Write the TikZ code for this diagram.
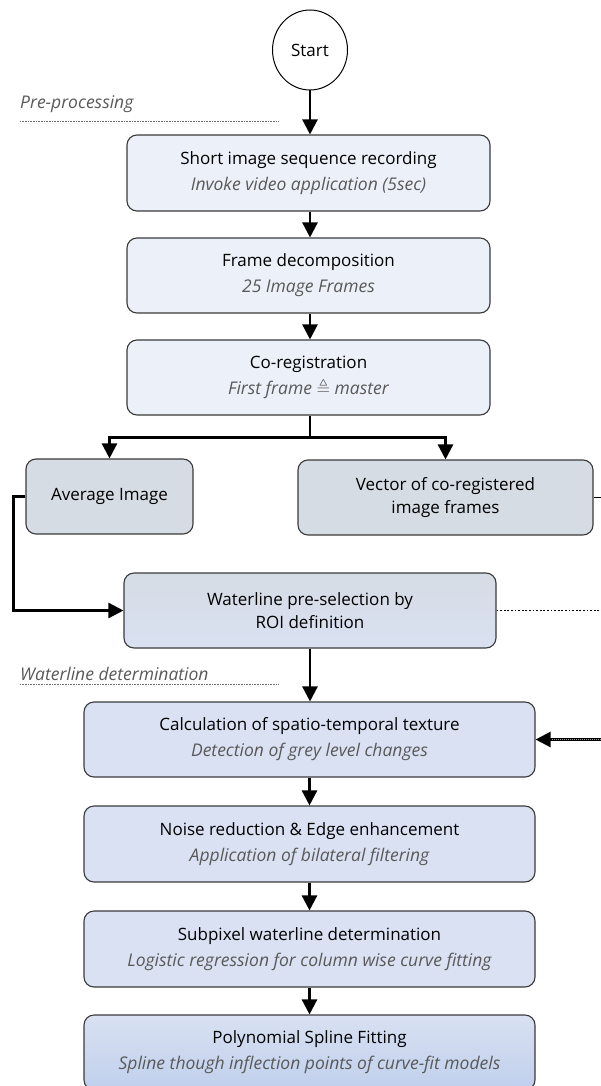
\documentclass[tikz,border=0pt]{standalone}
\usepackage{amssymb}
\usepackage{fontspec}
\setmainfont{Open Sans}
\usetikzlibrary{arrows.meta,shapes.geometric}
\definecolor{bdr}{HTML}{3A3A3A}
\definecolor{fillA}{HTML}{ECF0F9}
\definecolor{fillB}{HTML}{D6DCE4}
\definecolor{fillC}{HTML}{D9E1F2}
\definecolor{fillD}{HTML}{BFCFEC}
\definecolor{subc}{HTML}{595959}
\tikzset{
  box/.style={draw=bdr, line width=1.1pt, rounded corners=10pt, align=center,
    inner sep=0pt, font=\fontsize{17}{26}\selectfont},
  lightbox/.style={box, fill=fillA, minimum width=363pt, minimum height=76pt},
  greybox/.style={box, fill=fillB, minimum height=75pt, font=\fontsize{17}{23}\selectfont},
  bluebox/.style={box, fill=fillC, minimum width=451pt, minimum height=75pt},
  arr/.style={line width=2.4pt, -{Triangle[length=15pt,width=15pt]}},
  sublbl/.style={font=\fontsize{17.5}{18}\selectfont\itshape, text=subc, inner sep=0pt},
  secline/.style={line width=0.8pt, draw=black!55, dash pattern=on 0.8pt off 0.8pt},
}
\newcommand{\subt}[1]{{\fontsize{17.5}{26}\selectfont\itshape\color{subc}#1}}
\begin{document}
\begin{tikzpicture}[x=1pt,y=-1pt]
\useasboundingbox (0,0) rectangle (601,1086);
\clip (0,0) rectangle (601,1086);
% Start
\node[draw, ellipse, line width=1pt, minimum width=75pt, minimum height=80pt, inner sep=0pt,
      font=\fontsize{17}{18}\selectfont] (start) at (310,50) {Start};
% section labels
\node[sublbl, anchor=base west] (pre) at (20,109) {Pre-processing};
\coordinate (preA) at (20,121.5);
\coordinate (preB) at (278,121.5);
\draw[secline] (preA) -- (preB);
% pre-processing boxes
\node[lightbox] (b1) at (308.5,173) {Short image sequence recording\\\subt{Invoke video application (5sec)}};
\node[lightbox, minimum height=75pt] (b2) at (308.5,275.5) {Frame decomposition\\\subt{25 Image Frames}};
\node[lightbox, minimum height=75pt] (b3) at (308.5,377.5) {Co-registration\\\subt{First frame $\triangleq$ master}};
\node[greybox, minimum width=167pt] (avg) at (109.5,496.5) {Average Image};
\node[greybox, minimum width=295pt] (vec) at (445.5,497.5) {Vector of co-registered\\image frames};
\node[box, minimum width=372pt, minimum height=75pt, top color=fillB, bottom color=fillC,
      font=\fontsize{17}{23}\selectfont] (wl) at (310,610.5) {Waterline pre-selection by\\ROI definition};
% waterline determination
\node[sublbl, anchor=base west] (wdl) at (20,680) {Waterline determination};
\coordinate (wdA) at (20,684);
\coordinate (wdB) at (278,684);
\draw[secline] (wdA) -- (wdB);
\node[bluebox] (calc) at (309.5,739.5) {Calculation of spatio-temporal texture\\\subt{Detection of grey level changes}};
\node[bluebox, minimum height=76pt] (noise) at (309.5,844) {Noise reduction \& Edge enhancement\\\subt{Application of bilateral filtering}};
\node[bluebox, minimum height=76pt] (sub) at (309.5,949) {Subpixel waterline determination\\\subt{Logistic regression for column wise curve fitting}};
\node[box, minimum width=451pt, minimum height=75pt, top color=fillC, bottom color=fillD] (poly) at (309.5,1052.5) {Polynomial Spline Fitting\\\subt{Spline though inflection points of curve-fit models}};
% connectors
\draw[arr] (start.south) -- (start.south |- b1.north);
\draw[arr] (b1.south -| start) -- (b2.north -| start);
\draw[arr] (b2.south -| start) -- (b3.north -| start);
\draw[line width=2.4pt] (b3.south -| start) -- ++(0,22) coordinate (br);
\draw[arr] (br) -| (avg.north);
\draw[arr] (br) -| (vec.north);
\draw[arr] (avg.west) -- ++(-12,0) |- (wl.west);
\coordinate (vecR) at (601,497.5);
\draw[line width=1.8pt] (vec.east) -- (vecR);
\coordinate (wlR) at (601,610.5);
\draw[line width=1.8pt, dash pattern=on 1.8pt off 1.8pt] (wl.east) -- (wlR);
\coordinate (calcR) at (601,739.5);
\draw[arr] (calcR) -- (calc.east);
\draw[line width=0.9pt, draw=white!60!black, dash pattern=on 1pt off 1pt] (calcR) -- ([xshift=16pt]calc.east);
\draw[arr] (wl.south) -- (calc.north -| wl.south);
\draw[arr] (calc.south) -- (noise.north);
\draw[arr] (noise.south) -- (sub.north);
\draw[arr] (sub.south) -- (poly.north);
\end{tikzpicture}
\end{document}
